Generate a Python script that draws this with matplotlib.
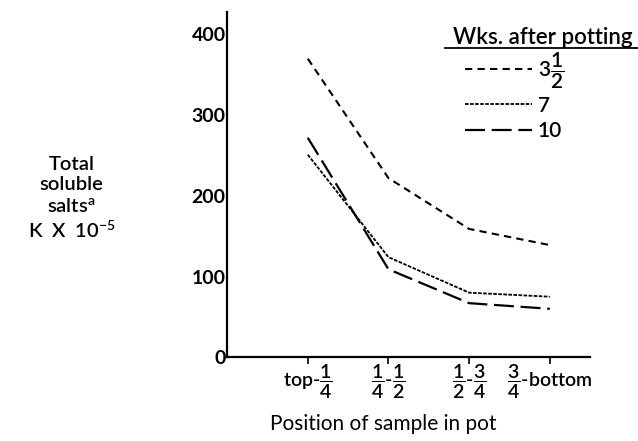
import numpy as np
import matplotlib
matplotlib.use("Agg")
import matplotlib.pyplot as plt
from matplotlib.lines import Line2D

plt.rcParams['font.family'] = ['Lato', 'DejaVu Sans']
plt.rcParams['font.weight'] = 'semibold'
plt.rcParams['mathtext.fontset'] = 'custom'
plt.rcParams['mathtext.rm'] = 'Lato:semibold'
plt.rcParams['mathtext.bf'] = 'Lato:bold'
plt.rcParams['mathtext.it'] = 'Lato:italic'

positions = ["top-1/4", "1/4-1/2", "1/2-3/4", "3/4-bottom"]
tick_labels = [r"top-$\dfrac{1}{4}$", r"$\dfrac{1}{4}$-$\dfrac{1}{2}$",
               r"$\dfrac{1}{2}$-$\dfrac{3}{4}$", r"$\dfrac{3}{4}$-bottom"]
wks_3half = [370, 222, 159, 139]
wks_7 = [251, 124, 80, 75]
wks_10 = [272, 109, 67, 60]
series_labels = [r"$3\dfrac{1}{2}$", "7", "10"]
yticks = [0, 100, 200, 300, 400]

fig = plt.figure(figsize=(6.38, 4.41), dpi=100)
ax = fig.add_axes([0.356, 0.190, 0.569, 0.783])

x = np.arange(len(positions))
l1, = ax.plot(x, wks_3half, color="black", lw=1.5, linestyle=(0, (3.5, 2.5)))
l2, = ax.plot(x, wks_7, color="black", lw=1.3, linestyle=(0, (2, 0.8)))
l3, = ax.plot(x, wks_10, color="black", lw=1.6, linestyle=(0, (9, 3)))

ax.set_xlim(-1.0, 3.5)
ax.set_ylim(0, 428)
ax.spines['top'].set_visible(False)
ax.spines['right'].set_visible(False)
ax.spines['left'].set_linewidth(1.6)
ax.spines['bottom'].set_linewidth(1.6)

ax.set_yticks(yticks)
ax.set_yticklabels([str(v) for v in yticks], fontsize=14, fontweight='bold')
ax.tick_params(axis='y', length=0, pad=1)
ax.set_xticks(x)
ax.set_xticklabels(tick_labels, fontsize=14)
ax.tick_params(axis='x', length=5, width=1.2, direction='out', pad=-1)

ax.set_xlabel("Position of sample in pot", fontsize=15)
ax.xaxis.set_label_coords(0.43, -0.165)

fig.text(0.112, 1 - 198 / 441, "Total\nsoluble\nsalts$^{\\rm a}$\nK  X  10$^{-5}$",
         ha='center', va='center', fontsize=14.5, linespacing=1.25)

fig.text(453 / 638, 1 - 37 / 441, "Wks. after potting", fontsize=16,
         ha='left', va='center')
# underline under legend title
fig.add_artist(Line2D([445 / 638, 1.0], [1 - 48 / 441, 1 - 48 / 441],
                      color="black", lw=1.3, transform=fig.transFigure))

leg = ax.legend([l1, l2, l3], series_labels,
                loc='upper left', bbox_to_anchor=(465 / 638, 1 - 50 / 441),
                bbox_transform=fig.transFigure, frameon=False,
                fontsize=15, handlelength=3.2, borderaxespad=0,
                handletextpad=0.3, labelspacing=0.25, borderpad=0)

fig.savefig("out.png", dpi=100)
